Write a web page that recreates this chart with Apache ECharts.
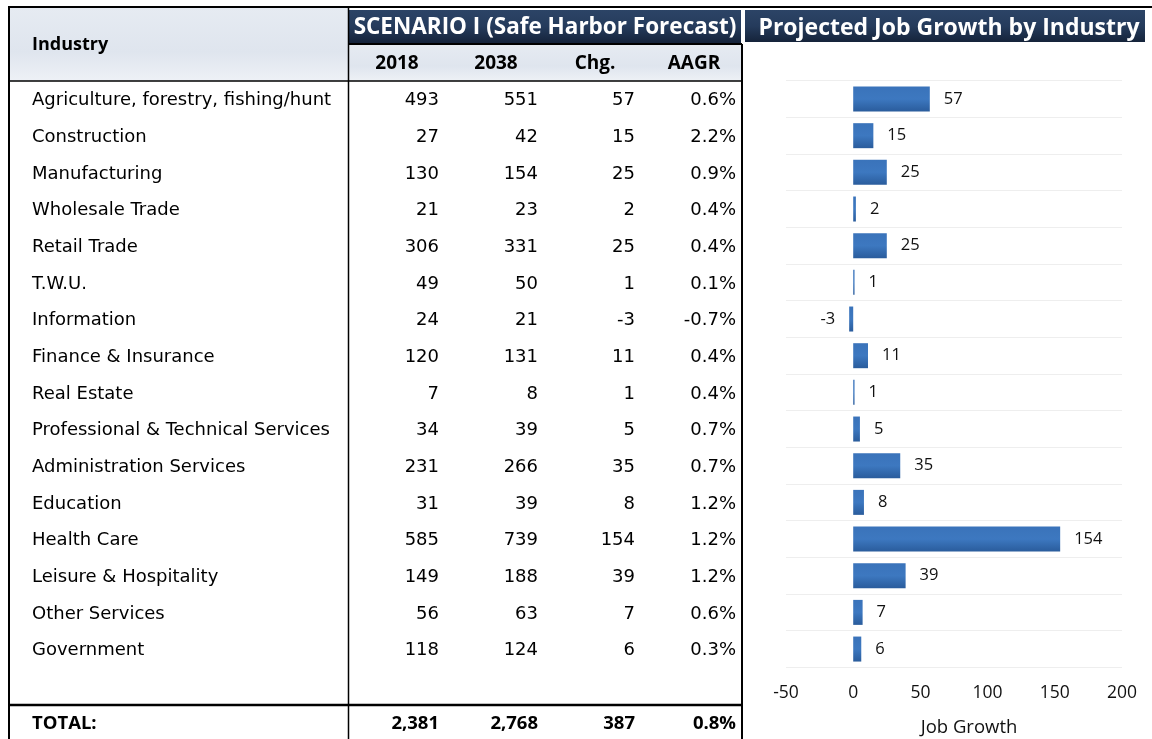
<!DOCTYPE html>
<html><head><meta charset="utf-8">
<script src="https://cdn.jsdelivr.net/npm/echarts@6/dist/echarts.min.js"></script>
<style>html,body{margin:0;padding:0;background:#fff}#c{width:1152px;height:739px}</style>
</head><body><div id="c"></div>
<script>
const industries = ['Agriculture, forestry, fishing/hunt','Construction','Manufacturing','Wholesale Trade','Retail Trade','T.W.U.','Information','Finance & Insurance','Real Estate','Professional & Technical Services','Administration Services','Education','Health Care','Leisure & Hospitality','Other Services','Government'];
const v2018 = [493,27,130,21,306,49,24,120,7,34,231,31,585,149,56,118];
const v2038 = [551,42,154,23,331,50,21,131,8,39,266,39,739,188,63,124];
const chg = [57,15,25,2,25,1,-3,11,1,5,35,8,154,39,7,6];
const aagr = ['0.6%','2.2%','0.9%','0.4%','0.4%','0.1%','-0.7%','0.4%','0.4%','0.7%','0.7%','1.2%','1.2%','1.2%','0.6%','0.3%'];
const totalRow = ['TOTAL:', 2381, 2768, 387, '0.8%'];
const colHeaders = ['2018','2038','Chg.','AAGR'];
const xTicks = [-50, 0, 50, 100, 150, 200];

const FONT = 'DejaVu Sans';
const HFONT = 'Open Sans';
const N = industries.length;
const ROWH = 36.67;
const TOP = 80.67;
const TTOP = TOP + 1.5;
const rowCats = industries.concat(['', totalRow[0]]);
const fmtN = v => typeof v === 'number' ? v.toLocaleString('en-US') : v;

function colFormatter(arr, tot) {
  return (val, i) => i < N ? String(arr[i]) : (i === N + 1 ? '{b|' + fmtN(tot) + '}' : '');
}
const richB = { b: { fontWeight: 'bold', fontSize: 18.5, fontFamily: HFONT, color: '#000' } };
const baseLabel = { fontSize: 18, fontFamily: FONT, color: '#000', interval: 0, rich: richB };

const chart = echarts.init(document.getElementById('c'), null, { renderer: 'canvas' });

const tableCols = [
  { arr: v2018, tot: totalRow[1], offset: 297 },
  { arr: v2038, tot: totalRow[2], offset: 198 },
  { arr: chg, tot: totalRow[3], offset: 101 },
  { arr: aagr, tot: totalRow[4], offset: 0 }
];

const yAxes = [
  { gridIndex: 0, type: 'category', data: industries, inverse: true,
    axisLine: { show: false }, axisTick: { show: false }, axisLabel: { show: false },
    splitLine: { show: true, lineStyle: { color: '#eeeeee' } } },
  { gridIndex: 1, type: 'category', data: rowCats, inverse: true,
    axisLine: { show: false }, axisTick: { show: false },
    axisLabel: Object.assign({}, baseLabel, { inside: true, margin: 0,
      formatter: (v, i) => i === N + 1 ? '{b|' + v + '}' : v }) }
].concat(tableCols.map(c => ({
  gridIndex: 2, type: 'category', data: rowCats, inverse: true, position: 'left', offset: c.offset,
  axisLine: { show: false }, axisTick: { show: false },
  axisLabel: Object.assign({}, baseLabel, { margin: 3, formatter: colFormatter(c.arr, c.tot) })
})));

const navy = { type: 'linear', x: 0, y: 0, x2: 0, y2: 1, colorStops: [
  { offset: 0, color: '#2c4466' }, { offset: 0.5, color: '#253b5c' }, { offset: 1, color: '#15233a' }] };
const light = { type: 'linear', x: 0, y: 0, x2: 0, y2: 1, colorStops: [
  { offset: 0, color: '#e6ebf2' }, { offset: 0.6, color: '#dfe5ee' }, { offset: 1, color: '#eef1f6' }] };

function line(x1, y1, x2, y2, w) {
  return { type: 'line', z: 100, shape: { x1, y1, x2, y2 }, style: { stroke: '#000', lineWidth: w || 1.5 } };
}
const hdrText = { fontFamily: HFONT, fontWeight: 'bold', fontSize: 19, fill: '#000' };
const colCenters = [397, 496, 595, 694];

chart.setOption({
  animation: false,
  grid: [
    { left: 786, top: TOP, width: 336, height: ROWH * N, outerBoundsMode: 'none', containLabel: false },
    { left: 32, top: TTOP, width: 300, height: ROWH * (N + 2), outerBoundsMode: 'none', containLabel: false },
    { left: 739, top: TTOP, width: 1, height: ROWH * (N + 2), outerBoundsMode: 'none', containLabel: false }
  ],
  xAxis: [
    { gridIndex: 0, type: 'value', min: xTicks[0], max: xTicks[xTicks.length - 1], interval: xTicks[1] - xTicks[0],
      axisLine: { show: false }, axisTick: { show: false },
      splitLine: { show: false },
      axisLabel: { fontSize: 17.5, fontFamily: HFONT, color: '#111', margin: 17 },
      name: 'Job Growth', nameLocation: 'middle', nameGap: 51,
      nameTextStyle: { fontSize: 18.5, fontFamily: HFONT, color: '#111', padding: [0, 0, 0, 30] } },
    { gridIndex: 1, type: 'value', show: false },
    { gridIndex: 2, type: 'value', show: false }
  ],
  yAxis: yAxes,
  series: [{
    type: 'bar', xAxisIndex: 0, yAxisIndex: 0, barWidth: 25,
    data: chg.map(v => ({ value: v, label: { position: v < 0 ? 'left' : 'right' } })),
    itemStyle: { color: { type: 'linear', x: 0, y: 0, x2: 0, y2: 1, colorStops: [
      { offset: 0, color: '#3a73ba' }, { offset: 0.5, color: '#3d78c0' }, { offset: 1, color: '#2a5c9c' }] } },
    label: { show: true, position: 'right', distance: 14, fontSize: 16.5, fontFamily: HFONT, color: '#111',
      formatter: p => String(p.value) }
  }],
  graphic: [
    { type: 'rect', z: -10, shape: { x: 9, y: 8, width: 339, height: 73 }, style: { fill: light } },
    { type: 'rect', z: -10, shape: { x: 348, y: 44, width: 394, height: 37 }, style: { fill: light } },
    { type: 'rect', z: -5, shape: { x: 348, y: 10, width: 393, height: 33 }, style: { fill: navy } },
    { type: 'rect', z: -5, shape: { x: 745, y: 10, width: 400, height: 32 }, style: { fill: navy } },
    { type: 'text', z: 50, style: Object.assign({}, hdrText, { text: 'Industry', x: 32, y: 45, verticalAlign: 'middle', fontSize: 18 }) },
    { type: 'text', z: 50, style: { text: 'SCENARIO I (Safe Harbor Forecast)', x: 545, y: 28, align: 'center', verticalAlign: 'middle',
      fontFamily: HFONT, fontWeight: 'bold', fontSize: 22.5, fill: '#fff' } },
    { type: 'text', z: 50, style: { text: 'Projected Job Growth by Industry', x: 949, y: 28, align: 'center', verticalAlign: 'middle',
      fontFamily: HFONT, fontWeight: 'bold', fontSize: 23, fill: '#fff' } }
  ].concat(colHeaders.map((h, i) => ({ type: 'text', z: 50,
    style: Object.assign({}, hdrText, { text: h, x: colCenters[i], y: 64, align: 'center', verticalAlign: 'middle' }) })))
   .concat([
    line(8, 7, 1152, 7, 2),
    line(9, 7, 9, 739, 2),
    line(348.5, 7, 348.5, 739, 1.5),
    line(742, 44, 742, 739, 2),
    line(348, 44, 742, 44, 2),
    line(9, 81, 742, 81, 1.5),
    line(9, 705, 742, 705, 2.5)
  ])
});
</script></body></html>
